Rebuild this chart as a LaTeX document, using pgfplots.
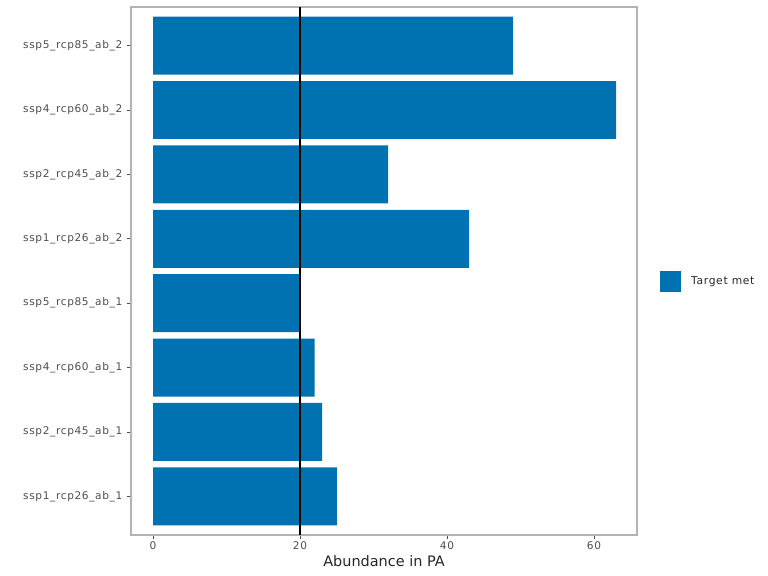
\documentclass[border=0pt]{standalone}
\usepackage{pgfplots}
\pgfplotsset{compat=1.18}
\usepackage{fontspec}
\setmainfont{DejaVu Sans}
\newfontfamily\spaced[LetterSpace=6]{DejaVu Sans}
\definecolor{barblue}{HTML}{0072B2}
\definecolor{ticktext}{HTML}{4D4D4D}
\definecolor{framegray}{HTML}{B3B3B3}
\definecolor{tickgray}{HTML}{4D4D4D}
\begin{document}
\begin{tikzpicture}
\path[use as bounding box] (0,0) rectangle (768bp,576bp);
\begin{axis}[
  at={(131bp,41bp)}, anchor=south west,
  scale only axis, width=506bp, height=528bp,
  xmin=-3.0, xmax=65.85, ymin=0.4, ymax=8.6,
  xbar, bar width=0.9,
  ytick={1,2,3,4,5,6,7,8},
  yticklabels={ssp1\_rcp26\_ab\_1,ssp2\_rcp45\_ab\_1,ssp4\_rcp60\_ab\_1,ssp5\_rcp85\_ab\_1,ssp1\_rcp26\_ab\_2,ssp2\_rcp45\_ab\_2,ssp4\_rcp60\_ab\_2,ssp5\_rcp85\_ab\_2},
  xtick={0,20,40,60},
  xtick pos=bottom, ytick pos=left,
  tick align=outside, major tick length=4.5bp,
  tick style={tickgray, line width=0.8bp},
  axis line style={framegray, line width=1.1bp},
  /pgf/number format/assume math mode=true,
  tick label style={font=\spaced\fontsize{10.6}{12}\selectfont, text=ticktext},
  yticklabel style={inner sep=0pt, xshift=-4bp},
  xticklabel style={inner sep=0pt, yshift=-1.5bp},
  xlabel={Abundance in PA},
  xlabel style={font=\fontsize{14.5}{16}\selectfont, at={(axis description cs:0.5,0)}, anchor=center, yshift=-26bp, text=black!85},
  legend style={at={(axis description cs:1.0455,0.481)}, anchor=west, draw=none, fill=none, inner sep=0pt, font=\spaced\fontsize{10.8}{12}\selectfont, text=black!85, /tikz/every even column/.style={column sep=0pt}},
  legend cell align=left,
  legend image code/.code={\fill[barblue] (0bp,-10.5bp) rectangle (21bp,10.5bp);},
]
\addplot[fill=barblue, draw=none] coordinates {
  (25,1) (23,2) (22,3) (20,4) (43,5) (32,6) (63,7) (49,8)
};
\addlegendentry{\hspace*{8bp}Target met}
\addplot[sharp plot, black, line width=1.6bp, forget plot] coordinates {(20,0.4) (20,8.6)};
\end{axis}
\end{tikzpicture}
\end{document}
